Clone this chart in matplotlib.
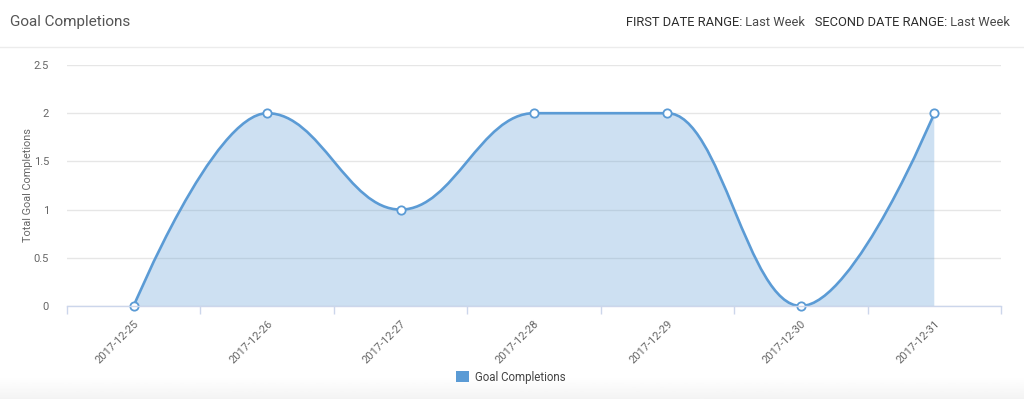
import numpy as np
import matplotlib
matplotlib.use("Agg")
import matplotlib.pyplot as plt
from matplotlib.path import Path
from matplotlib.patches import PathPatch, Patch
from matplotlib.lines import Line2D

# =========================
# Data
# =========================
dates = ["2017-12-25", "2017-12-26", "2017-12-27", "2017-12-28",
         "2017-12-29", "2017-12-30", "2017-12-31"]
completions = [0, 2, 1, 2, 2, 0, 2]
y_ticks = [0, 0.5, 1, 1.5, 2, 2.5]
y_tick_labels = ["0", "0.5", "1", "1.5", "2", "2.5"]
header_parts = [("FIRST DATE RANGE:", "#2e2e2e"), (" Last Week", "#4a4a4a"),
                ("   SECOND DATE RANGE:", "#2e2e2e"), (" Last Week", "#4a4a4a")]

LINE = "#5b9bd5"
GRID = "#e6e6e6"
AXIS = "#ccd6eb"
TEXT = "#666666"

plt.rcParams["font.family"] = ["Roboto", "DejaVu Sans"]


# =========================
# Highcharts-like spline control points
# =========================
def spline_path(xs, ys, smoothing=1.5):
    n = len(xs)
    denom = smoothing + 1
    left = [None] * n
    right = [None] * n
    for i in range(1, n - 1):
        px, py = xs[i], ys[i]
        lx, ly = xs[i - 1], ys[i - 1]
        nx, ny = xs[i + 1], ys[i + 1]
        lcx = (smoothing * px + lx) / denom
        lcy = (smoothing * py + ly) / denom
        rcx = (smoothing * px + nx) / denom
        rcy = (smoothing * py + ny) / denom
        if rcx != lcx:
            corr = (rcy - lcy) * (rcx - px) / (rcx - lcx) + py - rcy
            lcy += corr
            rcy += corr
            if lcy > ly and lcy > py:
                lcy = max(ly, py)
                rcy = 2 * py - lcy
            elif lcy < ly and lcy < py:
                lcy = min(ly, py)
                rcy = 2 * py - lcy
            if rcy > ny and rcy > py:
                rcy = max(ny, py)
                lcy = 2 * py - rcy
            elif rcy < ny and rcy < py:
                rcy = min(ny, py)
                lcy = 2 * py - rcy
        left[i] = (lcx, lcy)
        right[i] = (rcx, rcy)

    verts = [(xs[0], ys[0])]
    codes = [Path.MOVETO]
    for i in range(1, n):
        c1 = right[i - 1] if right[i - 1] else (xs[i - 1], ys[i - 1])
        c2 = left[i] if left[i] else (xs[i], ys[i])
        verts += [c1, c2, (xs[i], ys[i])]
        codes += [Path.CURVE4] * 3
    return verts, codes


x = np.arange(len(dates))
verts, codes = spline_path(list(x), completions)

# =========================
# Figure
# =========================
fig = plt.figure(figsize=(10.24, 3.99), dpi=100)

# bottom grey band
band = fig.add_axes([0, 0, 1, 22 / 399])
band.imshow(np.linspace(1.0, 0.955, 50).reshape(-1, 1), cmap="gray",
            vmin=0, vmax=1, aspect="auto", extent=[0, 1, 0, 1])
band.axis("off")

ax = fig.add_axes([67 / 1024, 1 - 306 / 399, (1001 - 67) / 1024, (306 - 65) / 399])

# fill under curve
fill_verts = [(x[0], 0)] + verts + [(x[-1], 0), (x[0], 0)]
fill_codes = [Path.MOVETO, Path.LINETO] + codes[1:] + [Path.LINETO, Path.CLOSEPOLY]
ax.add_patch(PathPatch(Path(fill_verts, fill_codes), facecolor=LINE, alpha=0.3,
                       edgecolor="none", zorder=2))
ax.add_patch(PathPatch(Path(verts, codes), facecolor="none", edgecolor=LINE,
                       lw=1.9, zorder=3, clip_on=False))
ax.plot(x, completions, "o", ms=6, mfc="white", mec=LINE, mew=1.3,
        zorder=4, clip_on=False)

ax.set_xlim(-0.5, len(dates) - 0.5)
ax.set_ylim(0, 2.5)

ax.set_yticks(y_ticks)
ax.set_yticklabels(y_tick_labels)
ax.yaxis.grid(True, color=GRID, lw=1)
ax.set_axisbelow(True)
ax.tick_params(axis="y", length=0, pad=13, labelsize=8, labelcolor=TEXT)

ax.set_xticks(x)
ax.set_xticklabels(dates, rotation=45, ha="right", rotation_mode="anchor")
ax.set_xticks(np.arange(len(dates) + 1) - 0.5, minor=True)
ax.tick_params(axis="x", which="major", length=0, pad=9, labelsize=8, labelcolor=TEXT)
ax.tick_params(axis="x", which="minor", length=6, width=1, color=AXIS)

for s in ["top", "right", "left"]:
    ax.spines[s].set_visible(False)
ax.spines["bottom"].set_color(AXIS)
ax.spines["bottom"].set_linewidth(1)
ax.spines["bottom"].set_zorder(5)

fig.text(28 / 1024, 1 - 185.5 / 399, "Total Goal Completions", rotation=90,
         ha="center", va="center", fontsize=7.8, color=TEXT)

# header
fig.text(10 / 1024, 1 - 22 / 399, "Goal Completions", ha="left", va="center",
         fontsize=11, color="#555555")

renderer = fig.canvas.get_renderer()
right_px = 1010
for text, color in reversed(header_parts):
    t = fig.text(right_px / 1024, 1 - 22 / 399, text, ha="right", va="center",
                 fontsize=9.25, color=color)
    right_px -= t.get_window_extent(renderer).width

fig.add_artist(Line2D([0, 1], [1 - 47 / 399] * 2, color="#ececec", lw=1))

# legend
fig.legend(handles=[Patch(facecolor=LINE, edgecolor="none", label="Goal Completions")],
           loc="center", bbox_to_anchor=(511 / 1024, 1 - 377 / 399), frameon=False,
           handlelength=1.1, handleheight=1.1, handletextpad=0.5,
           prop={"size": 8.3}, labelcolor="#444444")

fig.savefig("out.png", dpi=100)
